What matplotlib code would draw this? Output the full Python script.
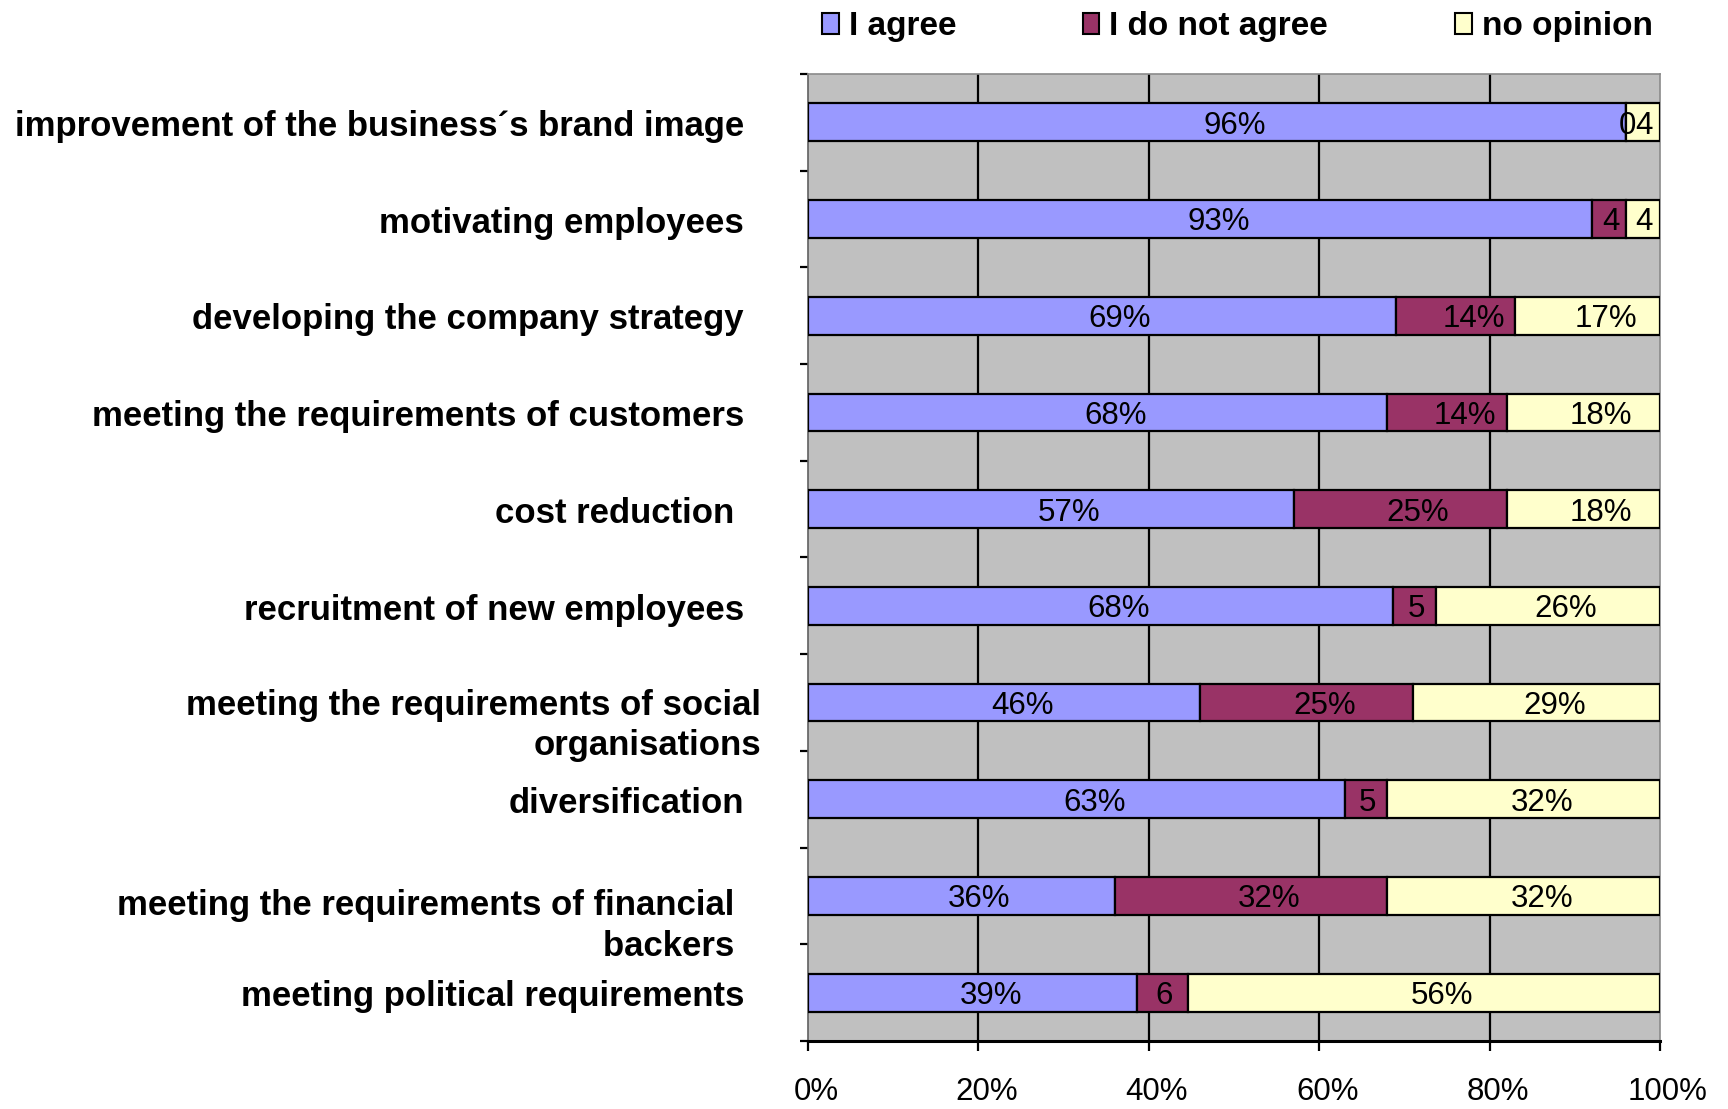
import matplotlib
matplotlib.use("Agg")
import matplotlib.pyplot as plt
import matplotlib.transforms as mtransforms
import numpy as np
from matplotlib.patches import Patch

categories = [
    "improvement of the business\u00b4s brand image",
    "motivating employees",
    "developing the company strategy",
    "meeting the requirements of customers",
    "cost reduction ",
    "recruitment of new employees",
    "meeting the requirements of social\norganisations",
    "diversification",
    "meeting the requirements of financial \nbackers ",
    "meeting political requirements",
]
agree = [96, 93, 69, 68, 57, 68, 46, 63, 36, 39]
disagree = [0, 4, 14, 14, 25, 5, 25, 5, 32, 6]
no_opinion = [4, 4, 17, 18, 18, 26, 29, 32, 32, 56]
series_names = ["I agree", "I do not agree", "no opinion"]
x_ticks = [0, 20, 40, 60, 80, 100]
x_tick_labels = ["0%", "20%", "40%", "60%", "80%", "100%"]

colors = ["#9999FF", "#993366", "#FFFFCC"]

plt.rcParams["font.family"] = ["Liberation Sans", "DejaVu Sans"]

fig = plt.figure(figsize=(17.28, 11.09), dpi=100)
ax = fig.add_axes([0.4676, 0.0613, 0.9606 - 0.4676, 0.9333 - 0.0613])
ax.set_facecolor("#C0C0C0")

data = np.array([agree, disagree, no_opinion], dtype=float)
totals = data.sum(axis=0)
shares = data / totals * 100.0

n = len(categories)
y = np.arange(n)
left = np.zeros(n)
for k in range(3):
    ax.barh(y, shares[k], left=left, height=0.39, color=colors[k],
            edgecolor="black", linewidth=1.6, zorder=3)
    for i in range(n):
        v = int(data[k, i])
        txt = f"{v}%" if v >= 10 else f"{v}"
        shift = 13 if v >= 10 else 1
        ax.annotate(txt, xy=(left[i] + shares[k, i] / 2, y[i]),
                    xytext=(shift, -2.5), textcoords="offset points",
                    ha="center", va="center", fontsize=22.5, color="black",
                    zorder=4)
    left = left + shares[k]

ax.set_xlim(0, 100)
ax.set_ylim(n - 0.5, -0.5)

# vertical gridlines
for gx in x_ticks[1:-1]:
    ax.axvline(gx, color="black", linewidth=1.6, zorder=1)

ax.set_xticks(x_ticks)
ax.set_xticklabels(x_tick_labels, fontsize=22.5)
ax.tick_params(axis="x", direction="out", length=7, width=1.6, pad=19, color="black")
nudge = mtransforms.ScaledTranslation(0.08, 0, fig.dpi_scale_trans)
for lbl in ax.get_xticklabels():
    lbl.set_transform(lbl.get_transform() + nudge)

ax.set_yticks(np.arange(-0.5, n, 1.0))
ax.set_yticklabels([])
ax.tick_params(axis="y", direction="out", length=6, width=1.6, color="black")

ax.spines["bottom"].set_color("black")
ax.spines["bottom"].set_linewidth(2.2)
ax.spines["left"].set_color("#606060")
ax.spines["left"].set_linewidth(1.2)
for s in ("top", "right"):
    ax.spines[s].set_color("#8a8a8a")
    ax.spines[s].set_linewidth(1.2)

# category labels
for i, cat in enumerate(categories):
    if "\n" in cat:
        if "social" in cat:
            dx, dy = -34, -16.5
        else:
            dx, dy = -46, -21.5
    else:
        dx, dy = -46, -3
    ax.annotate(cat, xy=(0, i), xycoords=("axes fraction", "data"),
                xytext=(dx, dy), textcoords="offset points",
                ha="right", va="center", fontsize=25, fontweight="bold",
                linespacing=1.3)

handles = [Patch(facecolor=c, edgecolor="black", linewidth=1.5) for c in colors]
fig.legend(handles, series_names, loc="center", bbox_to_anchor=(0.716, 0.976),
           ncol=3, frameon=False, prop={"size": 24, "weight": "bold"},
           handlelength=0.5, handleheight=0.6, handletextpad=0.3,
           columnspacing=3.8)

fig.savefig("out.png", dpi=100)
